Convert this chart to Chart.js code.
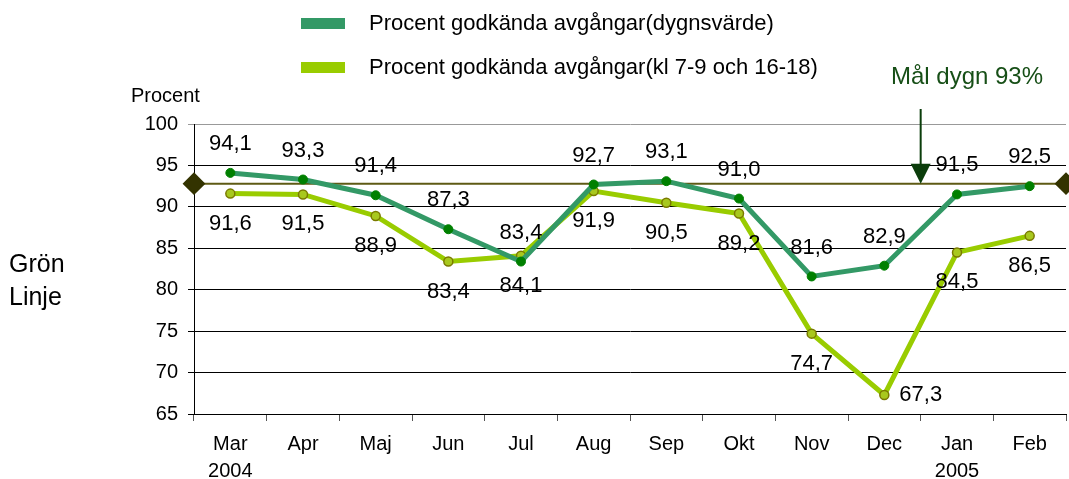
<!DOCTYPE html>
<html>
<head>
<meta charset="utf-8">
<script src="https://cdn.jsdelivr.net/npm/chart.js@4.4.0/dist/chart.umd.min.js"></script>
<style>
  body { margin: 0; background: #fff; }
  #wrap { width: 1069px; height: 479px; }
</style>
</head>
<body>
<div id="wrap"><canvas id="myChart" width="1069" height="479"></canvas></div>
<script>
const months = [['Mar', '2004'], 'Apr', 'Maj', 'Jun', 'Jul', 'Aug', 'Sep', 'Okt', 'Nov', 'Dec', ['Jan', '2005'], 'Feb'];
const dygn = [94.1, 93.3, 91.4, 87.3, 83.4, 92.7, 93.1, 91.0, 81.6, 82.9, 91.5, 92.5];
const rusning = [91.6, 91.5, 88.9, 83.4, 84.1, 91.9, 90.5, 89.2, 74.7, 67.3, 84.5, 86.5];
const target = 92.8;
const yTicks = [65, 70, 75, 80, 85, 90, 95, 100];

const labelDygn = 'Procent godkända avgångar(dygnsvärde)';
const labelRusning = 'Procent godkända avgångar(kl 7-9 och 16-18)';

const FONT = "'Liberation Sans', Arial, sans-serif";
Chart.defaults.font.family = FONT;
Chart.defaults.color = '#000';

function fmt(v) {
    return v.toFixed(1).replace('.', ',');
}

// text, legend, arrow and value labels
const extras = {
    id: 'extras',
    afterDatasetsDraw(chart) {
        const ctx = chart.ctx;
        const x = chart.scales.x;
        const y = chart.scales.y;
        ctx.save();

        // value labels
        ctx.font = '22px ' + FONT;
        ctx.fillStyle = '#000';
        ctx.textAlign = 'center';
        ctx.textBaseline = 'middle';
        chart.getDatasetMeta(0).data.forEach(function(pt, i) {
            ctx.fillText(fmt(dygn[i]), pt.x, pt.y - 29);
        });
        chart.getDatasetMeta(1).data.forEach(function(pt, i) {
            if (i == 9) {
                ctx.textAlign = 'left';
                ctx.fillText(fmt(rusning[i]), pt.x + 15, pt.y);
                ctx.textAlign = 'center';
            } else {
                ctx.fillText(fmt(rusning[i]), pt.x, pt.y + 30);
            }
        });

        // axis title and side text
        ctx.textAlign = 'left';
        ctx.font = '20px ' + FONT;
        ctx.fillText('Procent', 131, 96);
        ctx.font = '25px ' + FONT;
        ctx.fillText('Grön', 9, 265);
        ctx.fillText('Linje', 9, 298);

        // legend
        const ds = chart.data.datasets;
        ctx.font = '22px ' + FONT;
        [[ds[0], 24], [ds[1], 68]].forEach(function(item) {
            ctx.fillStyle = item[0].borderColor;
            ctx.fillRect(301, item[1] - 6, 44, 11);
            ctx.fillStyle = '#000';
            ctx.fillText(item[0].label, 369, item[1]);
        });

        // target arrow
        const ax = x.getPixelForValue(9.5);
        const ay = y.getPixelForValue(target);
        ctx.strokeStyle = '#0b3d0b';
        ctx.fillStyle = '#0b3d0b';
        ctx.lineWidth = 2;
        ctx.beginPath();
        ctx.moveTo(ax, 109);
        ctx.lineTo(ax, ay - 15);
        ctx.stroke();
        ctx.beginPath();
        ctx.moveTo(ax - 10, ay - 20);
        ctx.lineTo(ax + 10, ay - 20);
        ctx.lineTo(ax, ay);
        ctx.closePath();
        ctx.fill();

        ctx.fillStyle = '#174f17';
        ctx.font = '24px ' + FONT;
        ctx.textAlign = 'center';
        ctx.fillText('Mål dygn 93%', 967, 77);
        ctx.restore();
    }
};

const data = {
    labels: months,
    datasets: [{
        label: labelDygn,
        data: dygn,
        borderColor: '#339966',
        borderWidth: 5,
        pointRadius: 4.5,
        pointBackgroundColor: '#008000',
        pointBorderColor: '#008000',
        pointBorderWidth: 1,
        order: 1
    }, {
        label: labelRusning,
        data: rusning,
        borderColor: '#99cc00',
        borderWidth: 5,
        pointRadius: 4.5,
        pointBackgroundColor: '#a8c81e',
        pointBorderColor: '#7a7a00',
        pointBorderWidth: 1.5,
        order: 2
    }, {
        label: 'Mål',
        data: [{x: 0, y: target}, {x: 1, y: target}],
        xAxisID: 'x2',
        borderColor: '#5e5a14',
        borderWidth: 2,
        pointStyle: 'rectRot',
        pointRadius: 10,
        pointBackgroundColor: '#333300',
        pointBorderColor: '#333300',
        clip: false,
        order: 3
    }]
};

const config = {
    type: 'line',
    data: data,
    options: {
        responsive: false,
        animation: false,
        layout: {
            autoPadding: false,
            padding: { top: 124, right: 3, left: 0, bottom: 0 }
        },
        plugins: {
            legend: { display: false },
            tooltip: { enabled: false }
        },
        scales: {
            x: {
                offset: true,
                grid: {
                    offset: true,
                    drawOnChartArea: false,
                    drawTicks: true,
                    tickLength: 7,
                    color: '#555'
                },
                border: { color: '#000', width: 1 },
                ticks: {
                    font: { size: 20, lineHeight: 1.35 },
                    padding: 10,
                    maxRotation: 0,
                    autoSkip: false
                },
                afterFit: function(scale) {
                    scale.height = 65;
                    scale.paddingLeft = 0;
                    scale.paddingRight = 0;
                }
            },
            x2: {
                type: 'linear',
                min: 0,
                max: 1,
                display: false
            },
            y: {
                min: 65,
                max: 100,
                afterBuildTicks: function(scale) {
                    scale.ticks = yTicks.map(function(v) { return { value: v }; });
                },
                grid: {
                    color: function(c) { return c.tick && c.tick.value == 100 ? '#999' : '#000'; },
                    lineWidth: 1,
                    tickLength: 6
                },
                border: { color: '#000', width: 1 },
                ticks: {
                    font: { size: 20 },
                    padding: 10
                },
                afterFit: function(scale) { scale.width = 194; }
            }
        }
    },
    plugins: [extras]
};

const myChart = new Chart(document.getElementById('myChart'), config);
</script>
</body>
</html>
